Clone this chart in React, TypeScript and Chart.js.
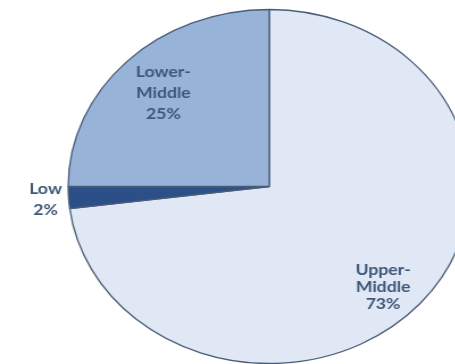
import React, { useEffect, useRef } from "react";
import { Chart, registerables } from "chart.js";

Chart.register(...registerables);

const categories = ["Upper-Middle", "Low", "Lower-Middle"];
const labelLines = [["Upper-", "Middle", "73%"], ["Low", "2%"], ["Lower-", "Middle", "25%"]];
const values = [73, 2, 25];
const sliceColors = ["#dfe8f4", "#2d4f88", "#97b3d8"];
const labelRadius = [0.8, 1.12, 0.745];
const labelShift = [[-6, 7], [1, 0], [0, 0]];
const labelLineHeight = [17, 21, 21];

const STRETCH = 1.136;

const labelPlugin = {
  id: "sliceLabels",
  afterDatasetsDraw(chart: any) {
    const ctx = chart.ctx;
    const meta = chart.getDatasetMeta(0);
    ctx.save();
    ctx.fillStyle = "#3f5878";
    ctx.font = "bold 16px Lato, 'Open Sans', sans-serif";
    ctx.textAlign = "center";
    ctx.textBaseline = "middle";
    meta.data.forEach((arc: any, i: number) => {
      const p = arc.getProps(["x", "y", "startAngle", "endAngle", "outerRadius"], true);
      const mid = (p.startAngle + p.endAngle) / 2;
      const r = p.outerRadius * labelRadius[i];
      const cx = p.x + Math.cos(mid) * r + labelShift[i][0];
      const cy = p.y + Math.sin(mid) * r + labelShift[i][1];
      const lines = labelLines[i];
      const lh = labelLineHeight[i];
      const top = cy - ((lines.length - 1) * lh) / 2;
      lines.forEach((t, j) => {
        ctx.save();
        ctx.translate(cx, top + j * lh);
        ctx.scale(1.1 / STRETCH, 1);
        ctx.fillText(t, 0, 0);
        ctx.restore();
      });
    });
    ctx.restore();
  },
};

export default function App() {
  const ref = useRef<HTMLCanvasElement | null>(null);
  useEffect(() => {
    if (!ref.current) return;
    const chart = new Chart(ref.current, {
      type: "pie",
      data: {
        labels: categories,
        datasets: [
          {
            data: values,
            backgroundColor: sliceColors,
            borderColor: "#4a5d78",
            borderWidth: 1.3,
          },
        ],
      },
      options: {
        responsive: false,
        animation: false,
        devicePixelRatio: 1,
        radius: 177,
        layout: { padding: { top: 9, bottom: 0, left: 0, right: 0 } },
        plugins: {
          legend: { display: false },
          tooltip: { enabled: false },
          title: { display: false },
        },
      } as any,
      plugins: [labelPlugin],
    });
    return () => chart.destroy();
  }, []);
  return (
    <div
      style={{
        position: "fixed",
        left: 0,
        top: 0,
        width: 455,
        height: 364,
        overflow: "hidden",
        background: "#ffffff",
      }}
    >
      <div style={{ transform: `scaleX(${STRETCH})`, transformOrigin: "0 0", width: 474, height: 364 }}>
        <canvas ref={ref} width={474} height={364} style={{ display: "block" }} />
      </div>
    </div>
  );
}
